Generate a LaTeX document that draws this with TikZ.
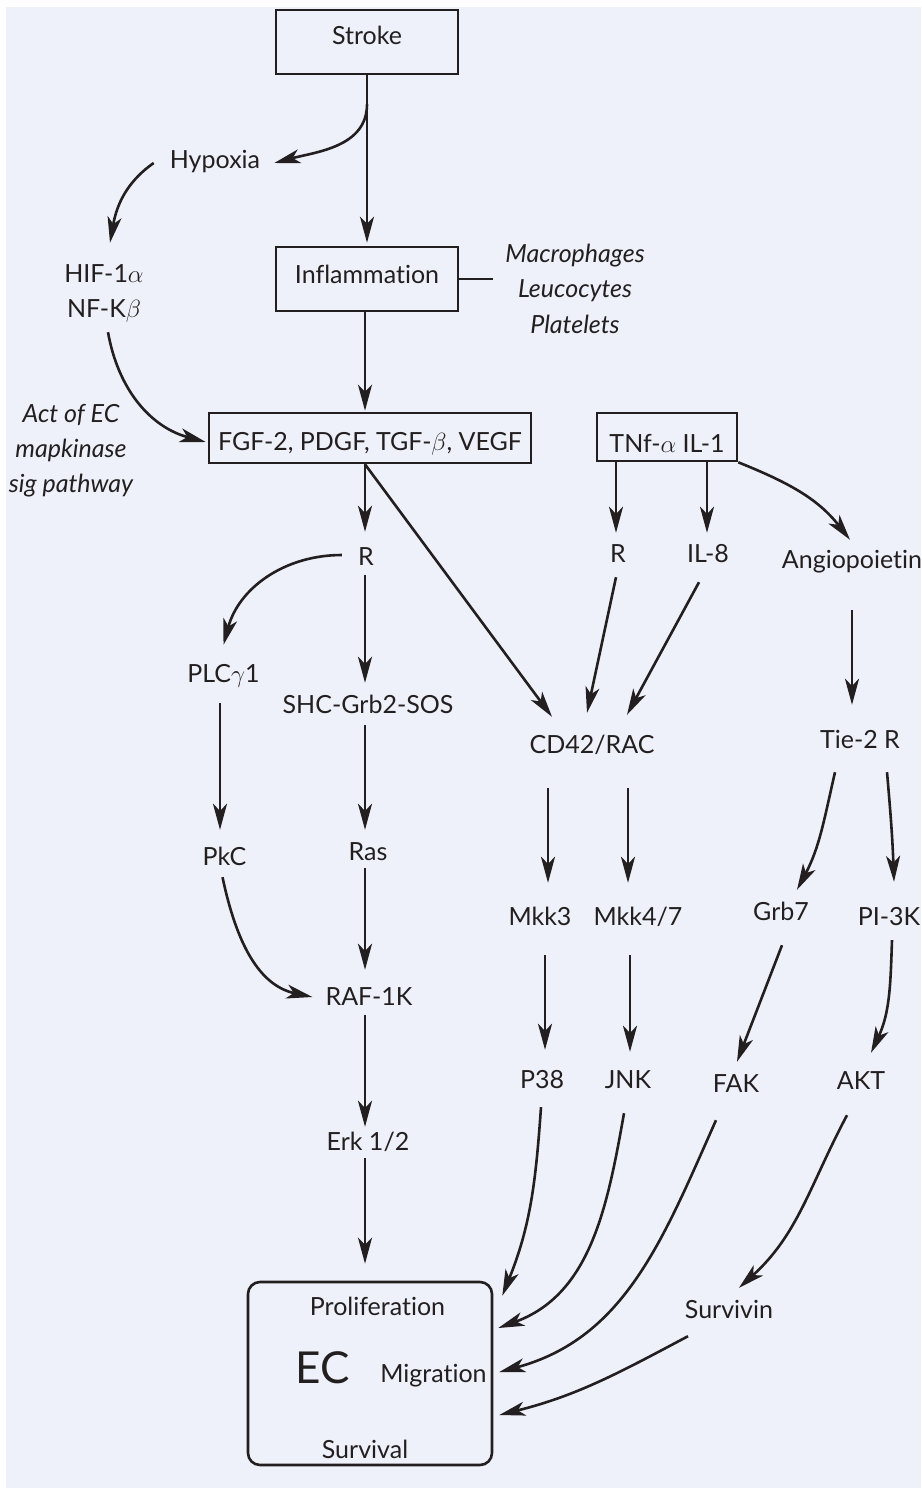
\documentclass[tikz,border=0pt]{standalone}
\usepackage{fontspec}
\setmainfont{Lato}[Ligatures=NoCommon]
\usetikzlibrary{arrows.meta}
\definecolor{bgc}{RGB}{238,241,249}
\definecolor{ink}{RGB}{35,31,32}
\begin{document}
\begin{tikzpicture}[x=1pt,y=1pt,
  font=\fontsize{25}{30}\selectfont,
  lbl/.style={inner sep=0pt, text height=19pt, text depth=5pt, anchor=base, text=ink},
  itl/.style={lbl, font=\fontsize{25}{30}\selectfont\itshape},
  box/.style={draw=ink, line width=2.6pt, inner sep=0pt, text=ink},
  ln/.style={draw=ink, line width=2.6pt},
  arr/.style={ln, -{Stealth[length=26pt,width=14pt,inset=7pt]}}]
\fill[white] (0,0) rectangle (921,-1488);
\fill[bgc] (6,-7) rectangle (921,-1488);
\useasboundingbox (0,0) rectangle (921,-1488);
% boxes
\node[box, minimum width=182pt, minimum height=64pt, text height=19pt, text depth=13pt] (stroke) at (367,-42) {Stroke};
\node[box, minimum width=182pt, minimum height=64pt, text height=19pt, text depth=11pt] (inflam) at (367,-279) {Inflammation};
\node[box, minimum width=322pt, minimum height=50pt, text height=24pt, text depth=0pt] (fgf) at (370,-438) {FGF-2, PDGF, TGF-$\beta$, VEGF};
\node[box, minimum width=140pt, minimum height=48pt, text height=30pt, text depth=0pt] (tnf) at (667,-437) {TNf-$\alpha$ IL-1};
\node[box, rounded corners=12pt, minimum width=244pt, minimum height=183pt] (ec) at (370,-1373.5) {};
% text nodes
\node[lbl] (hyp) at (215,-168) {Hypoxia};
\node[lbl] (hif) at (104,-282) {HIF-1$\alpha$};
\node[lbl] (nfk) at (104,-317) {NF-K$\beta$};
\node[itl] (mac) at (575,-262) {Macrophages};
\node[itl] (leu) at (575,-297) {Leucocytes};
\node[itl] (pla) at (575,-333) {Platelets};
\node[itl] (act) at (71,-422) {Act of EC};
\node[itl] (mapk) at (71,-457) {mapkinase};
\node[itl] (sig) at (71,-492) {sig pathway};
\node[lbl] (Rl) at (366,-565) {R};
\node[lbl] (plc) at (223.5,-682) {PLC$\gamma$1};
\node[lbl] (shc) at (368,-713) {SHC-Grb2-SOS};
\node[lbl] (pkc) at (224.5,-865) {PkC};
\node[lbl] (ras) at (368,-860) {Ras};
\node[lbl] (raf) at (369,-1005) {RAF-1K};
\node[lbl] (erk) at (368,-1150) {Erk 1/2};
\node[lbl] (Rr) at (618,-562) {R};
\node[lbl] (il8) at (708,-562) {IL-8};
\node[lbl] (ang) at (852,-568) {Angiopoietin};
\node[lbl] (cd42) at (592,-753) {CD42/RAC};
\node[lbl] (tie) at (860,-748) {Tie-2 R};
\node[lbl] (mkk3) at (540,-925) {Mkk3};
\node[lbl] (mkk47) at (638,-925) {Mkk4/7};
\node[lbl] (grb7) at (781,-920) {Grb7};
\node[lbl] (pi3k) at (889,-925) {PI-3K};
\node[lbl] (p38) at (542,-1088) {P38};
\node[lbl] (jnk) at (628,-1088) {JNK};
\node[lbl] (fak) at (736,-1092) {FAK};
\node[lbl] (akt) at (861,-1089) {AKT};
\node[lbl] (surv) at (729,-1318) {Survivin};
\node[lbl] (prolif) at (377.5,-1315) {Proliferation};
\node[lbl, font=\fontsize{44}{50}\selectfont, text height=32pt] (ecl) at (323,-1383) {EC};
\node[lbl] (migr) at (433.5,-1382) {Migration};
\node[lbl] (survl) at (365,-1458) {Survival};
% column coordinates
\coordinate (mcol) at (365,0);
\coordinate (lcol) at (220,0);
\coordinate (rcol) at (616,0);
\coordinate (icol) at (707,0);
\coordinate (k3col) at (548,0);
\coordinate (k47col) at (628,0);
\coordinate (p38col) at (545,0);
\coordinate (jnkcol) at (630,0);
\coordinate (angcol) at (852,0);
\coordinate (br1) at ([yshift=-29pt]stroke.south);
\coordinate (cellsend) at (493,-279);
% connectors
\draw[arr, shorten >=3pt] (stroke) -- (inflam);
\draw[arr] (br1) to[out=-90,in=15] ([xshift=14pt,yshift=-2pt]hyp.east);
\draw[arr] ([xshift=-16pt,yshift=-2pt]hyp.west) to[out=215,in=80] ([xshift=6pt,yshift=20pt]hif.north);
\draw[arr] ([xshift=4pt,yshift=-10pt]nfk.south) to[out=-80,in=165] ([xshift=-2pt,yshift=-4pt]fgf.west);
\draw[arr, shorten >=1pt] (inflam.south -| mcol) -- (fgf.north -| mcol);
\draw[ln] (inflam.east) -- (cellsend);
\draw[arr, shorten >=14pt] (fgf.south -| mcol) -- (Rl.north -| mcol);
\draw[arr] (fgf.south -| mcol) -- ([xshift=-40pt,yshift=17pt]cd42.north);
\draw[arr] ([xshift=-16pt,yshift=3pt]Rl.west) to[out=180,in=75] ([yshift=18pt]plc.north);
\draw[arr, shorten <=5pt, shorten >=11pt] (Rl.south -| mcol) -- (shc.north -| mcol);
\draw[arr, shorten <=16pt, shorten >=16pt] (plc.south -| lcol) -- (pkc.north -| lcol);
\draw[arr, shorten <=7pt, shorten >=11pt] (shc.south -| mcol) -- (ras.north -| mcol);
\draw[arr] ([xshift=-2pt,yshift=-7pt]pkc.south) to[out=-78,in=168] ([xshift=-13pt,yshift=1pt]raf.west);
\draw[arr, shorten <=3pt, shorten >=16pt] (ras.south -| mcol) -- (raf.north -| mcol);
\draw[arr, shorten <=5pt, shorten >=4pt] (raf.south -| mcol) -- (erk.north -| mcol);
\draw[arr, shorten <=3pt, shorten >=17pt] (erk.south -| mcol) -- (ec.north -| mcol);
\draw[arr, shorten >=10pt] (tnf.south -| rcol) -- (Rr.north -| rcol);
\draw[arr, shorten >=10pt] (tnf.south -| icol) -- (il8.north -| icol);
\draw[arr] (tnf.south east) to[out=-22,in=128] ([xshift=-2pt,yshift=9pt]ang.north);
\draw[arr] ([xshift=-2pt,yshift=-10pt]Rr.south) -- ([xshift=-5pt,yshift=21pt]cd42.north);
\draw[arr] ([xshift=-9pt,yshift=-15pt]il8.south) -- ([xshift=35pt,yshift=19pt]cd42.north);
\draw[arr, shorten <=37pt, shorten >=24pt] (ang.south -| angcol) -- (tie.north -| angcol);
\draw[arr, shorten <=30pt, shorten >=23pt] (cd42.south -| k3col) -- (mkk3.north -| k3col);
\draw[arr, shorten <=30pt, shorten >=23pt] (cd42.south -| k47col) -- (mkk47.north -| k47col);
\draw[arr] ([xshift=-25pt,yshift=-19pt]tie.south) to[out=-103,in=62] ([xshift=16pt,yshift=11pt]grb7.north);
\draw[arr] ([xshift=27pt,yshift=-19pt]tie.south) to[out=-85,in=92] ([xshift=5pt,yshift=24pt]pi3k.north);
\draw[arr, shorten <=25pt, shorten >=19pt] (mkk3.south -| p38col) -- (p38.north -| p38col);
\draw[arr, shorten <=25pt, shorten >=17pt] (mkk47.south -| jnkcol) -- (jnk.north -| jnkcol);
\draw[arr] ([xshift=1pt,yshift=-20pt]grb7.south) -- ([xshift=1pt,yshift=11pt]fak.north);
\draw[arr] ([xshift=3pt,yshift=-10pt]pi3k.south) to[out=-92,in=65] ([xshift=10pt,yshift=17pt]akt.north);
\draw[arr] ([xshift=-14pt,yshift=-21pt]akt.south) to[out=-118,in=42] ([xshift=10pt,yshift=11pt]surv.north);
\draw[arr] ([xshift=-1pt,yshift=-14pt]p38.south) to[out=-94,in=68] ([xshift=9pt,yshift=-15pt]ec.north east);
\draw[arr] ([xshift=-4pt,yshift=-20pt]jnk.south) to[out=-100,in=20] ([xshift=5pt,yshift=45.5pt]ec.east);
\draw[arr] ([xshift=-20pt,yshift=-23pt]fak.south) to[out=-114,in=15] ([xshift=6pt,yshift=1.5pt]ec.east);
\draw[arr] ([xshift=-41pt,yshift=-13pt]surv.south) to[out=-152,in=14] ([xshift=6pt,yshift=-41.5pt]ec.east);
\end{tikzpicture}
\end{document}
